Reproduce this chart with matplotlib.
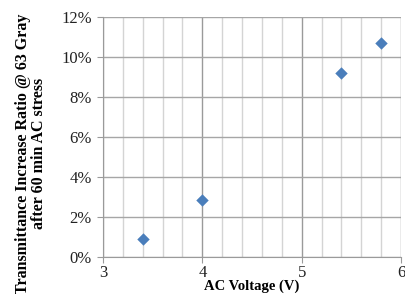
import matplotlib
matplotlib.use("Agg")
import matplotlib.pyplot as plt
from matplotlib.ticker import MultipleLocator, PercentFormatter

# Datos
voltaje = [3.4, 4.0, 5.4, 5.8]
ratio = [0.9, 2.85, 9.2, 10.7]  # en %

plt.rcParams['font.family'] = ['Liberation Serif', 'DejaVu Serif']

fig = plt.figure(figsize=(4.06, 2.94), dpi=100)
ax = fig.add_axes([0.2537, 0.1259, 0.734, 0.8163])

ax.scatter(voltaje, ratio, marker='D', s=40, color='#4A7EBB', zorder=3, linewidths=0)

ax.set_xlim(3, 6)
ax.set_ylim(0, 12)
ax.xaxis.set_major_locator(MultipleLocator(1))
ax.xaxis.set_minor_locator(MultipleLocator(0.2))
ax.yaxis.set_major_locator(MultipleLocator(2))
ax.yaxis.set_major_formatter(PercentFormatter(decimals=0))

# Rejilla
ax.grid(which='major', axis='x', color='#9a9a9a', linewidth=1.0)
ax.grid(which='minor', axis='x', color='#d4d4d4', linewidth=1.0)
ax.grid(which='major', axis='y', color='#a6a6a6', linewidth=1.0)
ax.set_axisbelow(True)

for lado in ['top', 'right']:
    ax.spines[lado].set_visible(False)
for lado in ['left', 'bottom']:
    ax.spines[lado].set_color('#9a9a9a')

ax.tick_params(which='major', length=4, color='#9a9a9a', labelsize=12, labelcolor='#222222')
ax.tick_params(axis='x', pad=2)
ax.tick_params(axis='y', pad=4)
ax.tick_params(which='minor', length=0)

ax.set_xlabel("AC Voltage (V)", fontsize=10.5, fontweight='bold')
ax.xaxis.set_label_coords(0.5, -0.152)
ax.xaxis.label.set_va('bottom')

ax.set_ylabel("Transmittance Increase Ratio @ 63 Gray\nafter 60 min AC stress",
              fontsize=11.5, fontweight='bold', linespacing=1.05)
ax.yaxis.set_label_coords(-0.242, 0.43)
ax.yaxis.label.set_va('center')

fig.savefig("out.png", dpi=100)
